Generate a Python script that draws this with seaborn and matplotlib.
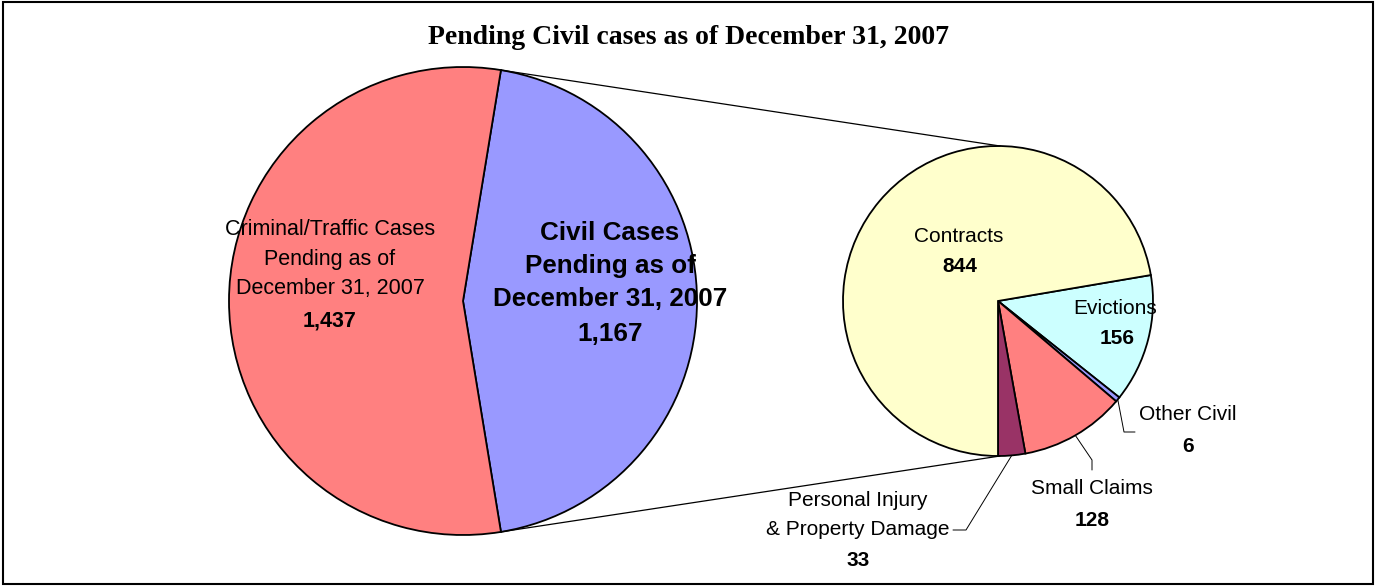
import numpy as np
import matplotlib
matplotlib.use("Agg")
import matplotlib.pyplot as plt
from matplotlib.patches import Rectangle
import seaborn as sns

# [Data]====================================================================================================
main_labels = ["Civil Cases\nPending as of\nDecember 31, 2007", "Criminal/Traffic Cases\nPending as of\nDecember 31, 2007"]
main_values = [1167, 1437]
main_colors = ["#9999FF", "#FF8080"]

civil_labels = ["Evictions", "Other Civil", "Small Claims", "Personal Injury\n& Property Damage", "Contracts"]
civil_values = [156, 6, 128, 33, 844]
civil_colors = ["#CCFFFF", "#9999FF", "#FF8080", "#993366", "#FFFFCC"]

title = "Pending Civil cases as of December 31, 2007"

# [Layout]====================================================================================================
W, H = 1376, 586
c1, r1 = (463, 285), 234
c2, r2 = (998, 285), 155

sns.set_theme(style="white")
plt.rcParams['font.family'] = ['Liberation Sans', 'DejaVu Sans']
plt.rcParams['text.color'] = 'black'

fig = plt.figure(figsize=(W / 100, H / 100), dpi=100)
ax = fig.add_axes([0, 0, 1, 1])

wp = dict(edgecolor='black', linewidth=1.3)

# left pie: civil slice centred on the right side
civil_share = main_values[0] / sum(main_values) * 360
ax.pie(main_values, colors=main_colors, center=c1, radius=r1,
       startangle=-civil_share / 2, counterclock=True, wedgeprops=wp, frame=True)

# right pie: breakdown of civil, last slice ends at the bottom
before_contracts = sum(civil_values[:-1]) / sum(civil_values) * 360
wedges, _ = ax.pie(civil_values, colors=civil_colors, center=c2, radius=r2,
                   startangle=-90 + before_contracts, counterclock=False,
                   wedgeprops=wp, frame=True)
ax.set_xlim(0, W)
ax.set_ylim(0, H)
ax.set_aspect('equal')
ax.axis('off')

# connector lines between the pies
for sgn in (1, -1):
    a = np.deg2rad(sgn * civil_share / 2)
    p1 = (c1[0] + r1 * np.cos(a), c1[1] + r1 * np.sin(a))
    p2 = (c2[0] + 2, c2[1] + sgn * r2)
    ax.plot([p1[0], p2[0]], [p1[1], p2[1]], color='black', lw=0.9)


def Y(y):
    return H - y


# left pie labels
ax.text(330, Y(259), main_labels[1], ha='center', va='center', fontsize=15.5, linespacing=1.52)
ax.text(330, Y(321), f"{main_values[1]:,}", ha='center', va='center', fontsize=15.5, fontweight='bold')
ax.text(610, Y(266), main_labels[0], ha='center', va='center', fontsize=18.7,
        fontweight='bold', linespacing=1.46)
ax.text(610, Y(334), f"{main_values[0]:,}", ha='center', va='center', fontsize=18.7, fontweight='bold')


def wedge_point(w, frac=1.0):
    ang = np.deg2rad((w.theta1 + w.theta2) / 2)
    return (w.center[0] + frac * w.r * np.cos(ang), w.center[1] + frac * w.r * np.sin(ang))


# inside labels
fs = 15
ax.text(959, Y(236), civil_labels[4], ha='center', va='center', fontsize=fs)
ax.text(960, Y(266), f"{civil_values[4]:,}", ha='center', va='center', fontsize=fs, fontweight='bold')
ax.text(1115, Y(309), civil_labels[0], ha='center', va='center', fontsize=fs)
ax.text(1117, Y(339), f"{civil_values[0]:,}", ha='center', va='center', fontsize=fs, fontweight='bold')

# outside labels with leaders
p = wedge_point(wedges[1])
ax.plot([p[0], 1124, 1135], [p[1], Y(432), Y(432)], color='black', lw=0.7)
ax.text(1188, Y(415), civil_labels[1], ha='center', va='center', fontsize=fs)
ax.text(1188, Y(446), f"{civil_values[1]:,}", ha='center', va='center', fontsize=fs, fontweight='bold')

p = wedge_point(wedges[2])
ax.plot([p[0], 1092, 1092], [p[1], Y(460), Y(470)], color='black', lw=0.7)
ax.text(1092, Y(489), civil_labels[2], ha='center', va='center', fontsize=fs)
ax.text(1092, Y(520), f"{civil_values[2]:,}", ha='center', va='center', fontsize=fs, fontweight='bold')

p = wedge_point(wedges[3])
ax.plot([p[0], 966, 953], [p[1], Y(530), Y(530)], color='black', lw=0.7)
ax.text(858, Y(515), civil_labels[3], ha='center', va='center', fontsize=fs, linespacing=1.67)
ax.text(858, Y(561), f"{civil_values[3]:,}", ha='center', va='center', fontsize=fs, fontweight='bold')

# title and outer frame
ax.text(W / 2, Y(38), title, ha='center', va='center', fontsize=20,
        fontweight='bold', family=['Liberation Serif', 'DejaVu Serif'])
fig.patches.append(Rectangle((0.002, 0.003), 0.996, 0.994, transform=fig.transFigure,
                             fill=False, edgecolor='black', lw=1.5))

fig.savefig("out.png", dpi=100, facecolor='white')
